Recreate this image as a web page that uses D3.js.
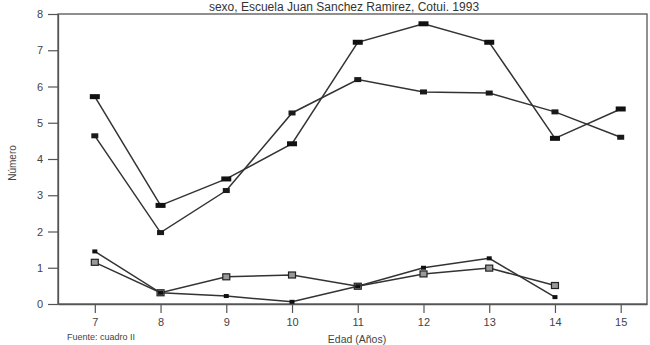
<!DOCTYPE html>
<html><head><meta charset="utf-8">
<script src="https://cdn.jsdelivr.net/npm/d3@7"></script>
<style>body{margin:0;background:#fff;} svg{display:block;}</style>
</head><body>
<svg id="c" width="650" height="345"></svg>
<script>
const ages = [7, 8, 9, 10, 11, 12, 13, 14, 15];
const serieA = [5.72, 2.72, 3.45, 4.42, 7.22, 7.73, 7.22, 4.57, 5.38];
const serieB = [4.64, 1.97, 3.13, 5.27, 6.19, 5.85, 5.82, 5.30, 4.60];
const serieC = [1.45, 0.31, 0.22, 0.06, 0.49, 1.00, 1.26, 0.19];
const serieD = [1.15, 0.31, 0.75, 0.80, 0.49, 0.83, 0.99, 0.51];
const yTicks = [0, 1, 2, 3, 4, 5, 6, 7, 8];
const title = "sexo, Escuela Juan Sanchez Ramirez, Cotui. 1993";

const svg = d3.select("#c");
const L = 58, R = 647, T = 14, B = 304;
const x = d3.scaleLinear().domain([6.44, 15.4]).range([L, R]);
const y = d3.scaleLinear().domain([0, 8]).range([B, T]);
const ink = "#333";
const font = "Liberation Sans, Arial, sans-serif";

svg.append("text").attr("x", 344).attr("y", 10.5).attr("text-anchor", "middle")
  .attr("font-family", font).attr("font-size", 12).attr("fill", "#333").text(title);

// frame
svg.append("rect").attr("x", L).attr("y", T).attr("width", R - L).attr("height", B - T)
  .attr("fill", "none").attr("stroke", "#555").attr("stroke-width", 1.3);

const xAxis = svg.append("g").attr("transform", `translate(0,${B})`)
  .call(d3.axisBottom(x).tickValues(ages).tickFormat(d3.format("d")).tickSize(9).tickSizeOuter(0));
const yAxis = svg.append("g").attr("transform", `translate(${L},0)`)
  .call(d3.axisLeft(y).tickValues(yTicks).tickFormat(d3.format("d")).tickSize(10).tickSizeOuter(0));
[xAxis, yAxis].forEach(g => {
  g.select(".domain").attr("stroke", "#555").attr("stroke-width", 1.3);
  g.selectAll(".tick line").attr("stroke", "#555").attr("stroke-width", 1.2);
  g.selectAll("text").attr("font-family", font).attr("font-size", 11).attr("fill", "#444");
});
xAxis.selectAll("text").attr("dy", "0.95em");
yAxis.selectAll("text").attr("dx", "-2px");

const line = d3.line().x((d, i) => x(ages[i])).y(d => y(d));
function drawSeries(vals, w, h, fill, stroke) {
  svg.append("path").datum(vals).attr("d", line).attr("fill", "none")
    .attr("stroke", ink).attr("stroke-width", 1.5);
  svg.append("g").selectAll("rect").data(vals).join("rect")
    .attr("x", (d, i) => x(ages[i]) - w / 2).attr("y", d => y(d) - h / 2)
    .attr("width", w).attr("height", h).attr("fill", fill)
    .attr("stroke", stroke).attr("stroke-width", stroke === "none" ? 0 : 1.2);
}
drawSeries(serieB, 7, 5, "#1a1a1a", "none");
drawSeries(serieA, 10, 5, "#111", "none");
drawSeries(serieD, 7, 6, "#999", "#222");
drawSeries(serieC, 5, 4, "#111", "none");

svg.append("text").attr("transform", "translate(16,163) rotate(-90)")
  .attr("text-anchor", "middle").attr("font-family", font).attr("font-size", 10)
  .attr("fill", "#444").text("Número");
svg.append("text").attr("x", 67).attr("y", 340).attr("font-family", font)
  .attr("font-size", 9).attr("fill", "#444").text("Fuente: cuadro II");
svg.append("text").attr("x", 357).attr("y", 343).attr("text-anchor", "middle")
  .attr("font-family", font).attr("font-size", 10.5).attr("fill", "#444").text("Edad (Años)");
</script>
</body></html>
